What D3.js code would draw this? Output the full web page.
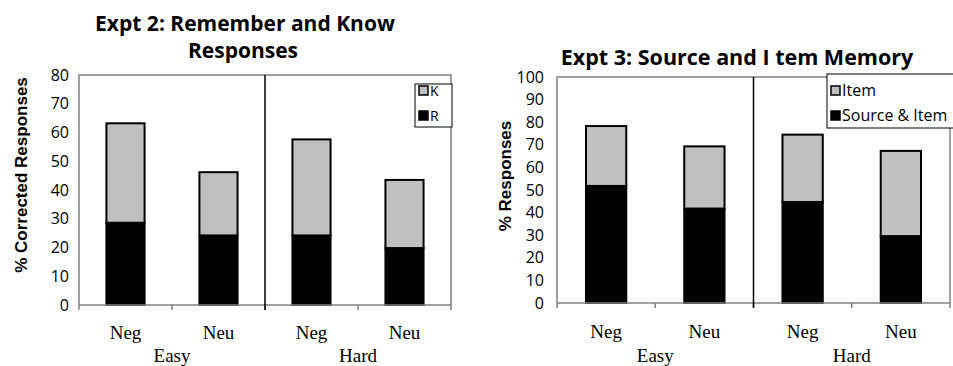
<!DOCTYPE html>
<html><head><meta charset="utf-8">
<script src="https://cdn.jsdelivr.net/npm/d3@7"></script>
<style>body{margin:0;background:#fff;} svg{display:block;}</style>
</head><body>
<svg id="chart" width="953" height="366"></svg>
<script>
// ---- data ----
const categories = ["Neg", "Neu", "Neg", "Neu"];
const groups = ["Easy", "Hard"];
const expt2R = [28.6, 24.2, 24.2, 19.8];
const expt2K = [34.6, 22.0, 33.4, 23.7];
const expt2Ticks = [0, 10, 20, 30, 40, 50, 60, 70, 80];
const expt3Source = [51.8, 41.8, 44.7, 29.6];
const expt3Item = [26.5, 27.5, 29.8, 37.7];
const expt3Ticks = [0, 10, 20, 30, 40, 50, 60, 70, 80, 90, 100];

const svg = d3.select("#chart");
const GRAY = "#c0c0c0";

function drawChart(cfg) {
  const { x0, x1, y0, y1, max, ticks, bottom, top, legendLabels } = cfg;
  const g = svg.append("g");
  const keys = categories.map((c, i) => i);
  const x = d3.scaleBand().domain(keys).range([x0, x1]).paddingInner(0.59).paddingOuter(0.295);
  const y = d3.scaleLinear().domain([0, max]).range([y1, y0]);

  // frame (top, right, left)
  g.append("path").attr("d", `M${x0},${y1}V${y0}H${x1}V${y1}`)
    .attr("fill", "none").attr("stroke", "#808080").attr("stroke-width", 1.5);

  // y tick labels
  const yAxis = d3.axisLeft(y).tickValues(ticks).tickSize(0).tickPadding(cfg.tickPad);
  const ya = g.append("g").attr("transform", `translate(${x0},0)`).call(yAxis);
  ya.select(".domain").remove();
  ya.selectAll("text").attr("font-family", "Open Sans").attr("font-size", cfg.tickFont).attr("fill", "#000");

  // bars
  const stack = categories.map((c, i) => ({ i, b: bottom[i], t: top[i] }));
  g.selectAll("rect.b").data(stack).join("rect")
    .attr("x", d => x(d.i)).attr("width", x.bandwidth())
    .attr("y", d => y(d.b)).attr("height", d => y(0) - y(d.b))
    .attr("fill", "#000").attr("stroke", "#000").attr("stroke-width", 2);
  g.selectAll("rect.t").data(stack).join("rect")
    .attr("x", d => x(d.i)).attr("width", x.bandwidth())
    .attr("y", d => y(d.b + d.t)).attr("height", d => y(d.b) - y(d.b + d.t))
    .attr("fill", GRAY).attr("stroke", "#000").attr("stroke-width", 2);

  // bottom axis line + ticks at band boundaries
  g.append("line").attr("x1", x0).attr("x2", x1).attr("y1", y1).attr("y2", y1)
    .attr("stroke", "#808080").attr("stroke-width", 1.5);
  const step = x.step();
  for (let k = 0; k <= categories.length; k++) {
    const xx = x0 + k * step;
    g.append("line").attr("x1", xx).attr("x2", xx).attr("y1", y1).attr("y2", y1 + 5)
      .attr("stroke", "#808080").attr("stroke-width", 1.5);
  }
  // group divider
  const mid = (x0 + x1) / 2;
  g.append("line").attr("x1", mid).attr("x2", mid).attr("y1", y0).attr("y2", y1 + 5)
    .attr("stroke", "#000").attr("stroke-width", 1.5);

  // category labels
  g.selectAll("text.cat").data(keys).join("text")
    .attr("x", d => x(d) + x.bandwidth() / 2).attr("y", cfg.catY)
    .attr("text-anchor", "middle").attr("font-family", "Liberation Serif").attr("font-size", 19)
    .text(d => categories[d]);
  g.selectAll("text.grp").data(groups).join("text")
    .attr("x", (d, i) => x0 + (i + 0.5) * (x1 - x0) / 2).attr("y", cfg.grpY)
    .attr("text-anchor", "middle").attr("font-family", "Liberation Serif").attr("font-size", 19)
    .text(d => d);

  // y label
  g.append("text").attr("transform", `translate(${cfg.ylabX},${cfg.ylabY}) rotate(-90)`)
    .attr("text-anchor", "middle").attr("font-family", "Liberation Sans").attr("font-weight", "bold")
    .attr("font-size", 17).text(cfg.ylabel);

  // title
  cfg.title.forEach(t => {
    g.append("text").attr("x", t.x).attr("y", t.y).attr("text-anchor", "middle")
      .attr("font-family", "Open Sans").attr("font-weight", "bold").attr("font-size", cfg.titleFont)
      .text(t.text);
  });

  // legend
  const L = cfg.legend;
  g.append("rect").attr("x", L.x).attr("y", L.y).attr("width", L.w).attr("height", L.h)
    .attr("fill", "#fff").attr("stroke", "#000").attr("stroke-width", 1);
  const fills = [GRAY, "#000"];
  legendLabels.forEach((lab, i) => {
    const yy = L.y + L.first + i * L.gap;
    g.append("rect").attr("x", L.x + 4).attr("y", yy - 9).attr("width", 9).attr("height", 9)
      .attr("fill", fills[i]).attr("stroke", "#000").attr("stroke-width", 1.5);
    g.append("text").attr("x", L.x + 15).attr("y", yy + 1).attr("font-family", "Open Sans")
      .attr("font-size", L.font).text(lab);
  });
}

drawChart({
  x0: 79, x1: 451, y0: 75, y1: 305, max: 80, ticks: expt2Ticks,
  bottom: expt2R, top: expt2K, legendLabels: ["K", "R"],
  tickPad: 10, tickFont: 16, catY: 339, grpY: 362,
  ylabX: 27, ylabY: 175, ylabel: "% Corrected Responses",
  titleFont: 21,
  title: [{ text: "Expt 2: Remember and Know", x: 245, y: 31 }, { text: "Responses", x: 243, y: 58 }],
  legend: { x: 415, y: 84, w: 37, h: 43, first: 11, gap: 25, font: 14 }
});
drawChart({
  x0: 557, x1: 950, y0: 77, y1: 303, max: 100, ticks: expt3Ticks,
  bottom: expt3Source, top: expt3Item, legendLabels: ["Item", "Source & Item"],
  tickPad: 13, tickFont: 16, catY: 338, grpY: 362,
  ylabX: 511, ylabY: 176, ylabel: "% Responses",
  titleFont: 21.5,
  title: [{ text: "Expt 3: Source and I tem Memory", x: 737, y: 65 }],
  legend: { x: 827, y: 74, w: 130, h: 54, first: 21, gap: 25, font: 16 }
});
</script>
</body></html>
